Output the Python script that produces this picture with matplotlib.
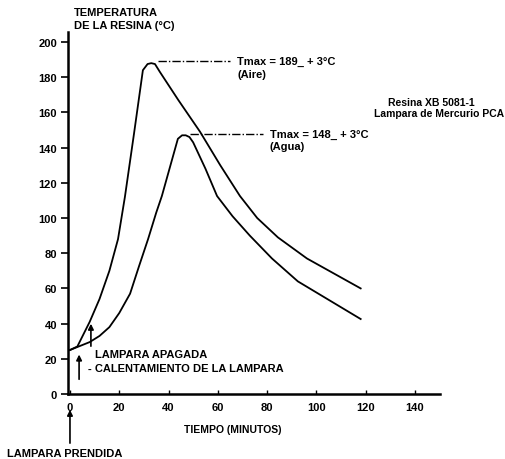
import matplotlib
matplotlib.use("Agg")
import matplotlib.pyplot as plt
import numpy as np

plt.rcParams['font.family'] = ['Liberation Sans', 'DejaVu Sans']
plt.rcParams['font.weight'] = 'bold'

# curva en aire
t_aire = [0, 3, 8, 12, 16, 19.5, 22.3, 26, 29.6, 31.5, 33, 34.5, 36.5, 44, 52.8, 61, 69, 76, 84.4, 96.2, 118]
T_aire = [25, 27, 41, 54, 70, 88, 112, 148, 184, 187.5, 188, 187.5, 183, 167, 149, 130, 112.5, 100, 89, 77, 60]

# curva en agua
t_agua = [0, 3, 8, 12, 16, 20, 24.4, 28, 31.7, 35, 37.3, 40, 43.8, 45.5, 47, 48.5, 50, 55, 59.7, 66, 73, 82, 92.5, 118]
T_agua = [25, 26.7, 29.5, 33, 38, 46, 57, 72.5, 88, 103, 112.5, 126, 145, 147, 147, 146, 143, 128, 112.5, 101, 90, 77, 64, 42.6]

x_ticks = [0, 20, 40, 60, 80, 100, 120, 140]
y_ticks = [0, 20, 40, 60, 80, 100, 120, 140, 160, 180, 200]

tmax_aire = 189
tmax_agua = 148

W, H = 505, 460
fig = plt.figure(figsize=(W / 100, H / 100), dpi=100)
ax = fig.add_axes([68 / W, 65 / H, 372 / W, 362 / H])

ax.plot(t_aire, T_aire, color='black', lw=1.3)
ax.plot(t_agua, T_agua, color='black', lw=1.3)

ax.set_xlim(-0.8, 150.2)
ax.set_ylim(0, 205.7)
ax.set_xticks(x_ticks)
ax.set_yticks(y_ticks)
ax.tick_params(axis='y', direction='out', length=5, width=1.2, labelsize=8, pad=3)
ax.tick_params(axis='x', direction='in', length=3, width=1, labelsize=8, pad=6)
for lab in ax.get_xticklabels() + ax.get_yticklabels():
    lab.set_fontweight('bold')
ax.spines['top'].set_visible(False)
ax.spines['right'].set_visible(False)
ax.spines['left'].set_linewidth(1.8)
ax.spines['bottom'].set_linewidth(1.8)

# lineas guia de Tmax
ax.plot([35.7, 65], [tmax_aire, tmax_aire], color='black', lw=1, ls=(0, (6, 1.5, 1, 1.5)))
ax.plot([48.7, 78.3], [tmax_agua - 0.5, tmax_agua - 0.5], color='black', lw=1, ls=(0, (6, 1.5, 1, 1.5)))
ax.text(68, tmax_aire, 'Tmax = 189_ + 3°C', fontsize=8, fontweight='bold', va='center', ha='left')
ax.text(68, tmax_aire - 7, '(Aire)', fontsize=8, fontweight='bold', va='center', ha='left')
ax.text(81, tmax_agua, 'Tmax = 148_ + 3°C', fontsize=8, fontweight='bold', va='center', ha='left')
ax.text(81, tmax_agua - 7, '(Agua)', fontsize=8, fontweight='bold', va='center', ha='left')

# flechas
ax.annotate('', xy=(8.5, 41.5), xytext=(8.5, 25.6),
            arrowprops=dict(arrowstyle='-|>', color='black', lw=1.2, mutation_scale=8))
ax.annotate('', xy=(3.7, 24), xytext=(3.7, 6.8),
            arrowprops=dict(arrowstyle='-|>', color='black', lw=1.2, mutation_scale=8))
ax.annotate('', xy=(0, -7.4), xytext=(0, -29.5), annotation_clip=False,
            arrowprops=dict(arrowstyle='-|>', color='black', lw=1.2, mutation_scale=8))
ax.text(10, 23, 'LAMPARA APAGADA', fontsize=8, fontweight='bold', va='center', ha='left')
ax.text(7.5, 14.5, '- CALENTAMIENTO DE LA LAMPARA', fontsize=8, fontweight='bold', va='center', ha='left')

# textos de la figura
fig.text(74 / W, 1 - 13 / H, 'TEMPERATURA', fontsize=8, fontweight='bold', va='center', ha='left')
fig.text(74 / W, 1 - 26 / H, 'DE LA RESINA (°C)', fontsize=8, fontweight='bold', va='center', ha='left')
fig.text(431 / W, 1 - 103 / H, 'Resina XB 5081-1', fontsize=7.5, fontweight='bold',
         va='center', ha='center')
fig.text(504 / W, 1 - 114 / H, 'Lampara de Mercurio PCA', fontsize=7.5, fontweight='bold',
         va='center', ha='right')
fig.text(233 / W, 1 - 430 / H, 'TIEMPO (MINUTOS)', fontsize=7.5, fontweight='bold',
         va='center', ha='center')
fig.text(7 / W, 1 - 454 / H, 'LAMPARA PRENDIDA', fontsize=8, fontweight='bold',
         va='center', ha='left')

fig.savefig('out.png', dpi=100)
